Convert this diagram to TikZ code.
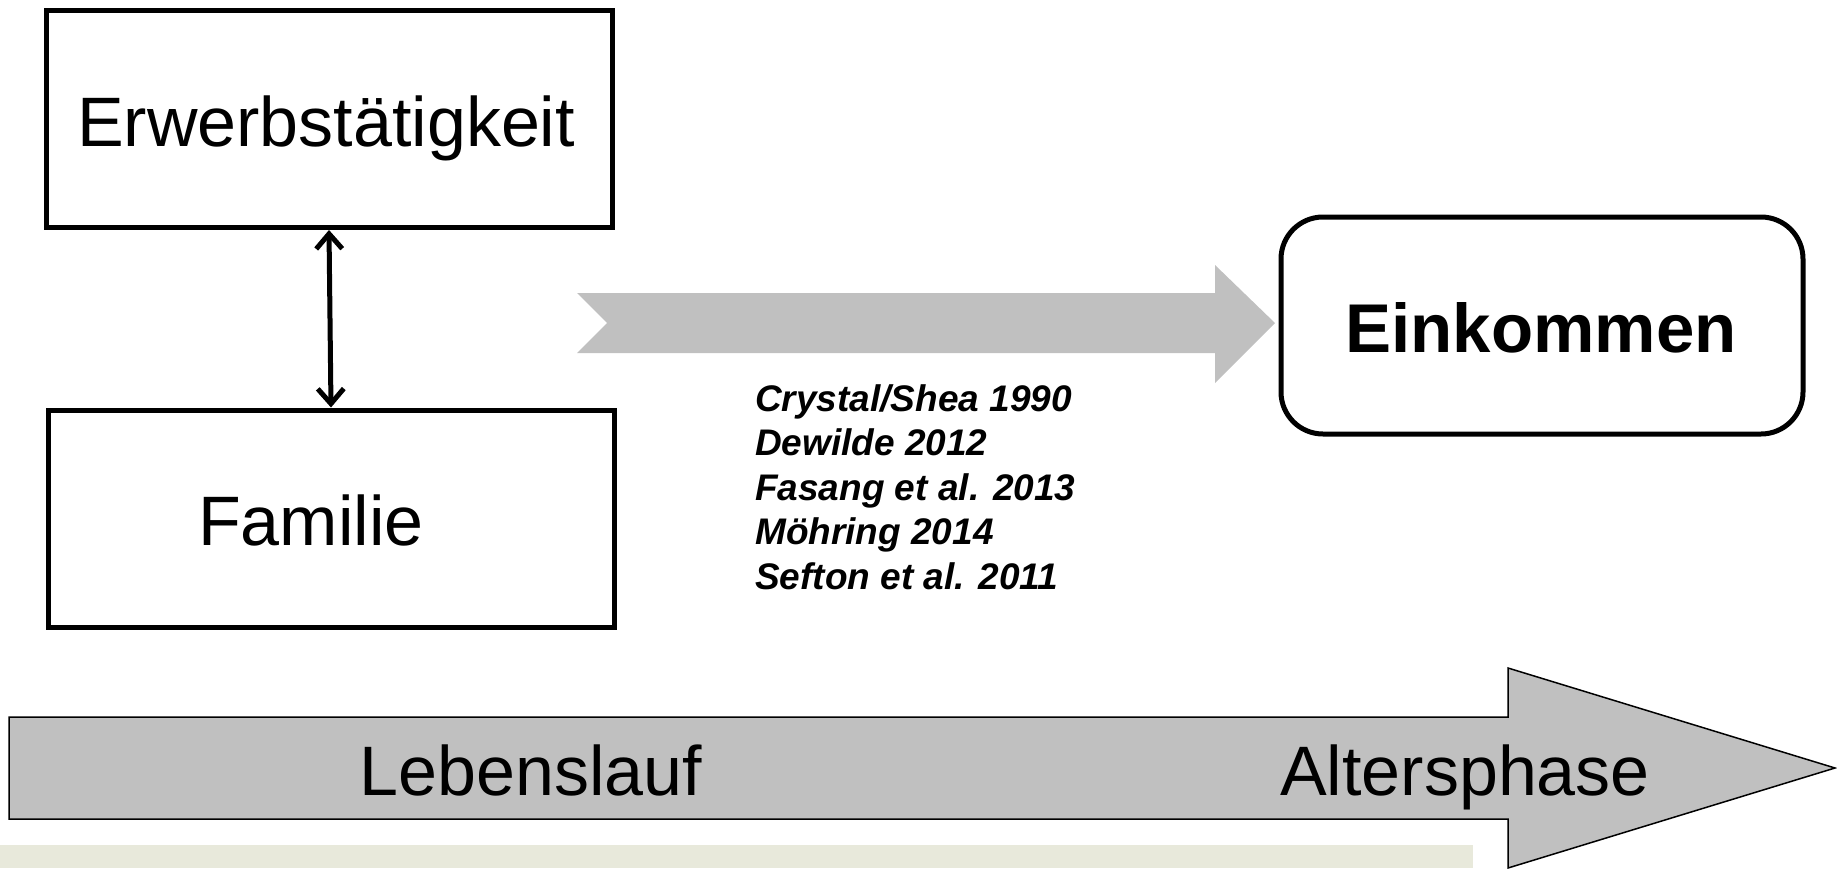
\documentclass[tikz,border=0pt]{standalone}
\usepackage{fontspec}
\setmainfont{Liberation Sans}
\usetikzlibrary{arrows.meta}
\definecolor{arrgray}{HTML}{C0C0C0}
\definecolor{beige}{HTML}{E8E9DB}
\tikzset{
  boxsq/.style={draw=black, line width=5pt, inner sep=0pt, fill=white},
  boxrd/.style={draw=black, line width=5pt, inner sep=0pt, rounded corners=42pt, fill=white},
  bigtxt/.style={inner sep=0pt, font=\fontsize{70}{80}\selectfont},
  boldtxt/.style={inner sep=0pt, font=\fontsize{69}{80}\selectfont\bfseries},
  citetxt/.style={inner sep=0pt, align=left, font=\fontsize{37}{44.5}\selectfont\bfseries\itshape},
  dblarrow/.style={line width=5pt, {Straight Barb[length=15pt,width=26pt]}-{Straight Barb[length=15pt,width=26pt]}},
}
\begin{document}
\begin{tikzpicture}[x=1pt,y=-1pt]
\useasboundingbox (0,0) rectangle (1837,868);
% background strip
\fill[beige] (0,845) rectangle (1473,868);
% boxes
\node[boxsq, minimum width=566pt, minimum height=217pt] (erw) at (329,119) {};
\node[bigtxt, anchor=base] (erwt) at (326,146) {Erwerbstätigkeit};
\node[boxsq, minimum width=566pt, minimum height=217pt] (fam) at (331,518.5) {};
\node[bigtxt, anchor=base] (famt) at (311,545) {Familie};
\node[boxrd, minimum width=522pt, minimum height=217pt] (ein) at (1542,325.5) {};
\node[boldtxt, anchor=base] (eint) at (1541,352) {Einkommen};
% double arrow
\draw[dblarrow] (erw.south) -- (fam.north);
% grey chevron arrow
\fill[arrgray] (577,293) -- (1215,293) -- (1215,265) -- (1275,323) -- (1215,383) -- (1215,353) -- (577,353) -- (607,323) -- cycle;
% citations
\node[citetxt, anchor=north west] (cite) at (755,384) {Crystal/Shea 1990\\Dewilde 2012\\Fasang et al. 2013\\Möhring 2014\\Sefton et al. 2011};
% life course arrow
\draw[fill=arrgray, draw=black, line width=1.5pt, line join=miter] (9,717) -- (1508,717) -- (1508,668) -- (1835,768) -- (1508,868) -- (1508,819) -- (9,819) -- cycle;
\node[bigtxt, anchor=base] (leb) at (531,795) {Lebenslauf};
\node[bigtxt, anchor=base] (alt) at (1465,795) {Altersphase};
\end{tikzpicture}
\end{document}
